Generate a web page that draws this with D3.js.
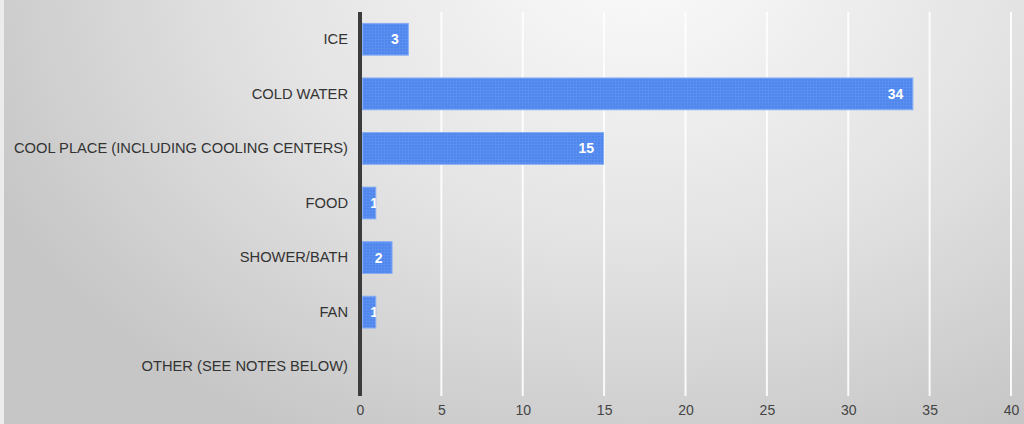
<!DOCTYPE html>
<html><head><meta charset="utf-8">
<script src="https://cdn.jsdelivr.net/npm/d3@7"></script>
<style>html,body{margin:0;padding:0;background:#fff;}svg{display:block;}</style>
</head><body>
<script>
const categories = ["ICE","COLD WATER","COOL PLACE (INCLUDING COOLING CENTERS)","FOOD","SHOWER/BATH","FAN","OTHER (SEE NOTES BELOW)"];
const values = [3,34,15,1,2,1,0];
const xTicks = [0,5,10,15,20,25,30,35,40];

const W=1024,H=424;
const svg=d3.select("body").append("svg").attr("width",W).attr("height",H);
const defs=svg.append("defs");
const rg=defs.append("radialGradient").attr("id","bg").attr("gradientUnits","userSpaceOnUse")
  .attr("cx",640).attr("cy",-40).attr("r",720).attr("gradientTransform","translate(640,-40) scale(1,0.75) translate(-640,40)");
rg.append("stop").attr("offset","0").attr("stop-color","#fbfbfb");
rg.append("stop").attr("offset","0.55").attr("stop-color","#e2e2e2");
rg.append("stop").attr("offset","1").attr("stop-color","#c6c6c6");
const pat=defs.append("pattern").attr("id","tex").attr("width",3).attr("height",3).attr("patternUnits","userSpaceOnUse");
pat.append("rect").attr("width",3).attr("height",3).attr("fill","#4f86ee");
pat.append("rect").attr("width",1).attr("height",3).attr("fill","#5a8ff0");
pat.append("rect").attr("width",3).attr("height",1).attr("fill","#5a8ff0");

svg.append("rect").attr("width",W).attr("height",H).attr("fill","#ececec");
svg.append("rect").attr("x",4).attr("y",0).attr("width",W-4).attr("height",H).attr("fill","url(#bg)");

const x=d3.scaleLinear().domain([0,40]).range([360,1011]);
const y=d3.scaleBand().domain(categories).range([12,394]).paddingInner(0.4).paddingOuter(0.2);

// gridlines
svg.append("g").selectAll("line").data(xTicks.filter(d=>d>0)).join("line")
  .attr("x1",d=>x(d)).attr("x2",d=>x(d)).attr("y1",12).attr("y2",396)
  .attr("stroke","#ffffff").attr("stroke-width",2).attr("opacity",0.9);

// x axis labels
const xAxis=d3.axisBottom(x).tickValues(xTicks).tickSize(0).tickPadding(0);
const gx=svg.append("g").attr("transform","translate(0,405)").call(xAxis);
gx.select(".domain").remove();
gx.selectAll("text").attr("font-family","Liberation Sans, Arial, sans-serif").attr("font-size",14).attr("fill","#444").attr("dy","0.71em");

// y labels
const yAxis=d3.axisLeft(y).tickSize(0).tickPadding(0);
const gy=svg.append("g").attr("transform","translate(348,0)").call(yAxis);
gy.select(".domain").remove();
gy.selectAll("text").attr("font-family","Liberation Sans, Arial, sans-serif").attr("font-size",14.7).attr("fill","#333");

// bars
const bars=svg.append("g");
values.forEach((v,i)=>{
  if(v<=0) return;
  const c=categories[i];
  const x0=x(0)+2, x1=x(v);
  defs.append("clipPath").attr("id","clip"+i).append("rect")
    .attr("x",x0).attr("y",y(c)).attr("width",x1-x0).attr("height",y.bandwidth());
  bars.append("rect").attr("x",x0+0.5).attr("y",y(c)+0.5).attr("width",x1-x0-1).attr("height",y.bandwidth()-1)
    .attr("fill","url(#tex)").attr("stroke","#86acf4").attr("stroke-width",1);
  const tx=Math.max(x1-10, x0+16);
  bars.append("text").attr("clip-path","url(#clip"+i+")")
    .attr("x",tx).attr("y",y(c)+y.bandwidth()/2).attr("dy","0.36em")
    .attr("text-anchor","end").attr("font-family","Liberation Sans, Arial, sans-serif")
    .attr("font-size",14).attr("font-weight","bold").attr("fill","#ffffff").text(v);
});

// axis line
svg.append("line").attr("x1",x(0)).attr("x2",x(0)).attr("y1",12).attr("y2",396)
  .attr("stroke","#3c3c3c").attr("stroke-width",4);
</script>
</body></html>
